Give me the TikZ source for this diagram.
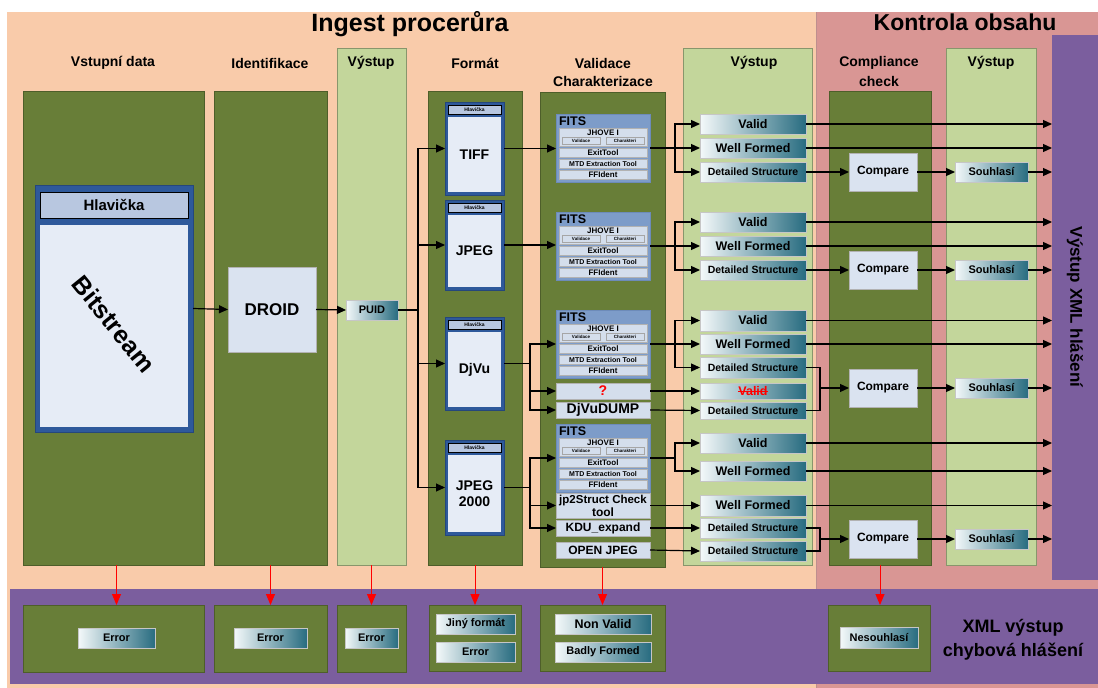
\documentclass[tikz,border=0pt]{standalone}
\usepackage{fontspec}
\setmainfont{Liberation Sans}
\usetikzlibrary{arrows.meta}
\definecolor{peach}{RGB}{249,203,170}
\definecolor{pinkr}{RGB}{217,150,148}
\definecolor{purp}{RGB}{123,94,158}
\definecolor{dkg}{RGB}{104,126,56}
\definecolor{ltg}{RGB}{195,214,155}
\definecolor{btnl}{RGB}{244,249,250}
\definecolor{btnm}{RGB}{172,206,215}
\definecolor{btnr}{RGB}{40,108,128}
\definecolor{frb}{RGB}{46,89,155}
\definecolor{hdb}{RGB}{184,199,224}
\definecolor{bdb}{RGB}{230,236,246}
\definecolor{fib}{RGB}{125,156,201}
\definecolor{fii}{RGB}{212,222,236}
\definecolor{cmpf}{RGB}{218,227,240}
\newcommand\bx[7]{\node[#1,minimum width={(#5)-(#3)},minimum height={(#6)-(#4)}] (#2) at ({((#3)+(#5))/2},{((#4)+(#6))/2}) {#7};}
\newcommand\fsz[1]{\fontsize{#1}{#1}\selectfont}
\newcommand\fmtbox[4]{%
 \bx{frm}{#1}{445}{#2}{504}{#3}{}
 \bx{hdr}{#1h}{448}{(#2)+3}{501}{(#2)+12}{\fsz{5}Hlavička}
 \bx{bdy}{#1b}{448}{(#2)+15}{501}{(#3)-3}{#4}}
\newcommand\fits[2]{%
 \bx{fitsbox}{#1}{556}{#2}{650}{(#2)+68}{}
 \node[base,anchor=west,font=\bfseries\fsz{12.5}] (#1t) at (559,{(#2)+7}) {FITS};
 \bx{inbox}{#1j}{559}{(#2)+14}{647}{(#2)+32}{}
 \node[base,font=\bfseries\fsz{8}] (#1jt) at (603,{(#2)+19}) {JHOVE I};
 \bx{subbox}{#1va}{562}{(#2)+23}{600}{(#2)+30}{\fsz{4.5}Validace}
 \bx{subbox}{#1ch}{606}{(#2)+23}{644}{(#2)+30}{\fsz{4.5}Charakteri}
 \bx{inbox}{#1e}{559}{(#2)+34}{647}{(#2)+43}{\fsz{8}ExitTool}
 \bx{inbox}{#1m}{559}{(#2)+45}{647}{(#2)+54}{\fsz{7}MTD Extraction Tool}
 \bx{inbox}{#1f}{559}{(#2)+56}{647}{(#2)+65}{\fsz{8}FFIdent}}
\tikzset{
 base/.style={inner sep=0pt, outer sep=0pt, font=\bfseries, align=center},
 pband/.style={base, fill=purp},
 dcol/.style={base, fill=dkg, draw=dkg!75!black, line width=0.7pt},
 lcol/.style={base, fill=ltg, draw=ltg!70!black, line width=0.7pt},
 btn/.style={base, draw=gray!45, line width=0.6pt, left color=btnl, middle color=btnm, right color=btnr},
 frm/.style={base, fill=frb, draw=frb!80!black, line width=0.6pt},
 hdr/.style={base, fill=hdb, draw=black, line width=0.8pt},
 bdy/.style={base, fill=bdb, font=\bfseries\fsz{14}},
 fitsbox/.style={base, fill=fib, draw=frb!70, line width=0.8pt},
 inbox/.style={base, fill=fii, draw=gray!60, line width=0.5pt},
 subbox/.style={base, fill=fii, draw=gray!70, line width=0.4pt},
 tool/.style={inbox, font=\bfseries\fsz{12}},
 cmp/.style={base, fill=cmpf, draw=gray!60, line width=0.6pt, font=\bfseries\fsz{12}},
 hd/.style={base, font=\bfseries\fsz{14}, align=center},
 ln/.style={draw=black, line width=1.2pt},
 arr/.style={ln, -{Triangle[length=9pt,width=8pt]}},
 redarr/.style={draw=red, line width=1pt, -{Triangle[length=11pt,width=9pt]}},
 b12/.style={btn, font=\bfseries\fsz{12.5}},
 b11/.style={btn, font=\bfseries\fsz{11}},
 b10/.style={btn, font=\bfseries\fsz{10.5}},
}
\begin{document}
\begin{tikzpicture}[x=1pt,y=-1pt]
\useasboundingbox (0,0) rectangle (1098,688);
\fill[white] (0,0) rectangle (1098,688);
\fill[peach] (7,12) rectangle (817,688);
\fill[pinkr] (817,12) rectangle (1098,688);
\draw[pinkr!70!gray, line width=1pt] (816.5,12) -- (816.5,688);
\bx{pband}{band}{10}{589}{1098}{684}{}
\bx{pband}{bar}{1052}{35}{1098}{580}{}
% titles
\node[base,font=\bfseries\fsz{25}] (t1) at (410,24) {Ingest procerůra};
\node[base,font=\bfseries\fsz{23}] (t2) at (965,22) {Kontrola obsahu};
% columns
\bx{dcol}{col1}{23}{91}{204}{565}{}
\bx{dcol}{col2}{214}{91}{327}{565}{}
\bx{lcol}{col3}{337}{48}{406}{565}{}
\bx{dcol}{col4}{428}{91}{522}{565}{}
\bx{dcol}{col5}{540}{92}{665}{567}{}
\bx{lcol}{col6}{683}{48}{812}{565}{}
\bx{dcol}{col7}{829}{91}{931}{565}{}
\bx{lcol}{col8}{946}{48}{1036}{565}{}
% headers
\node[hd] (h1) at (113,63) {Vstupní data};
\node[hd] (h2) at (270,63) {Identifikace};
\node[hd] (h3) at (371,63) {Výstup};
\node[hd] (h4) at (475,63) {Formát};
\node[hd] (h5) at (603,63) {Validace};
\node[hd] (h5b) at (603,81) {Charakterizace};
\node[hd] (h6) at (754,63) {Výstup};
\node[hd] (h7) at (879,63) {Compliance};
\node[hd] (h7b) at (879,81) {check};
\node[hd] (h8) at (991,63) {Výstup};
% bitstream
\bx{frm}{bs}{35}{185}{193}{432}{}
\bx{hdr}{bsh}{40}{192}{188}{218}{\fsz{15}Hlavička}
\bx{bdy}{bsb}{40}{225}{188}{427}{}
\node[base,font=\bfseries\fsz{25},rotate=-51] (bst) at (114,324) {Bitstream};
% DROID, PUID
\bx{cmp}{droid}{228}{267}{316}{352}{\fsz{17}DROID}
\bx{b11}{puid}{346}{300}{398}{320}{PUID}
% formats
\fmtbox{tiff}{102}{195}{TIFF}
\fmtbox{jpeg}{200}{290}{JPEG}
\fmtbox{djvu}{317}{410}{DjVu}
\fmtbox{jp2}{440}{535}{JPEG\\[2pt]2000}
% FITS + tools
\fits{fa}{114}
\fits{fb}{212}
\fits{fc}{310}
\fits{fd}{424}
\bx{tool}{qm}{556}{383}{650}{399}{\textcolor{red}{\fsz{14}?}}
\bx{tool}{djd}{556}{402}{650}{418}{\fsz{14}DjVuDUMP}
\bx{tool}{jps}{556}{493}{650}{518}{\fsz{11.5}jp2Struct Check\\[1pt]tool}
\bx{tool}{kdu}{556}{520}{650}{536}{KDU\_expand}
\bx{tool}{opj}{556}{542}{650}{558}{OPEN JPEG}
% outputs
\bx{b12}{va}{700}{114}{806}{134}{Valid}
\bx{b12}{wa}{700}{138}{806}{158}{Well Formed}
\bx{b10}{da}{700}{162}{806}{182}{Detailed Structure}
\bx{b12}{vb}{700}{212}{806}{232}{Valid}
\bx{b12}{wb}{700}{236}{806}{256}{Well Formed}
\bx{b10}{db}{700}{260}{806}{280}{Detailed Structure}
\bx{b12}{vc}{700}{310}{806}{331}{Valid}
\bx{b12}{wc}{700}{334}{806}{354}{Well Formed}
\bx{b10}{dc}{700}{357}{806}{378}{Detailed Structure}
\bx{b12}{vr}{700}{383}{806}{399}{}
\node[base,font=\bfseries\fsz{12.5},text=red] (vrt) at (vr.center) {Valid};
\draw[red,line width=1pt] (vrt.west) -- (vrt.east);
\bx{b10}{dd}{700}{402}{806}{419}{Detailed Structure}
\bx{b12}{vd}{700}{433}{806}{453}{Valid}
\bx{b12}{wd}{700}{461}{806}{481}{Well Formed}
\bx{b12}{we}{700}{495}{806}{516}{Well Formed}
\bx{b10}{de}{700}{518}{806}{538}{Detailed Structure}
\bx{b10}{df}{700}{541}{806}{561}{Detailed Structure}
% compare / souhlasi
\bx{cmp}{ca}{849}{153}{917}{191}{Compare}
\bx{cmp}{cb}{849}{251}{917}{289}{Compare}
\bx{cmp}{cc}{849}{369}{917}{407}{Compare}
\bx{cmp}{cd}{849}{520}{917}{558}{Compare}
\bx{b11}{sa}{955}{162}{1028}{182}{Souhlasí}
\bx{b11}{sb}{955}{260}{1028}{280}{Souhlasí}
\bx{b11}{sc}{955}{378}{1028}{398}{Souhlasí}
\bx{b11}{sd}{955}{529}{1028}{549}{Souhlasí}
% bottom error boxes
\bx{dcol}{e1}{23}{605}{204}{672}{}
\bx{dcol}{e2}{214}{605}{327}{672}{}
\bx{dcol}{e3}{337}{605}{406}{672}{}
\bx{dcol}{e4}{429}{605}{521}{671}{}
\bx{dcol}{e5}{540}{605}{665}{671}{}
\bx{dcol}{e7}{828}{605}{930}{671}{}
\bx{b11}{e1b}{78}{628}{155}{648}{Error}
\bx{b11}{e2b}{234}{628}{307}{648}{Error}
\bx{b11}{e3b}{345}{628}{398}{648}{Error}
\bx{b11}{e4a}{436}{614}{515}{634}{Jiný formát}
\bx{b11}{e4b}{436}{642}{515}{662}{Error}
\bx{b12}{e5a}{555}{614}{651}{634}{Non Valid}
\bx{b11}{e5b}{555}{642}{651}{662}{Badly Formed}
\bx{b11}{e7b}{840}{627}{918}{648}{Nesouhlasí}
\node[base,font=\bfseries\fsz{18}] (xm1) at (1013,628) {XML výstup};
\node[base,font=\bfseries\fsz{18}] (xm2) at (1013,652) {chybová hlášení};
\node[base,font=\bfseries\fsz{17},rotate=-90] (vx) at (1075,307) {Výstup XML hlášení};
% connectors: input side
\draw[arr] (bs.east) -- (droid.west);
\draw[arr] (droid.east) -- (puid.west);
\coordinate (px) at (418,0);
\draw[ln] (puid.east) -- (puid.east -| px);
\draw[arr] (puid.east -| px) |- (tiff.west);
\draw[arr] (puid.east -| px) |- (jpeg.west);
\draw[arr] (puid.east -| px) |- (djvu.west);
\draw[arr] (puid.east -| px) |- (jp2.west);
\draw[arr] (tiff.east) -- (tiff.east -| fa.west);
\draw[arr] (jpeg.east) -- (jpeg.east -| fb.west);
\coordinate (qx) at (530,0);
\draw[ln] (djvu.east) -- (djvu.east -| qx);
\draw[arr] (djvu.east -| qx) |- (fc.west);
\draw[arr] (djvu.east -| qx) |- (qm.west);
\draw[arr] (djvu.east -| qx) |- (djd.west);
\draw[ln] (jp2.east) -- (jp2.east -| qx);
\draw[arr] (jp2.east -| qx) |- (fd.west);
\draw[arr] (jp2.east -| qx) |- (jps.west);
\draw[arr] (jp2.east -| qx) |- (kdu.west);
% FITS to outputs
\coordinate (fx) at (675,0);
\foreach \f/\a/\b/\c in {fa/va/wa/da, fb/vb/wb/db, fc/vc/wc/dc}{
 \draw[ln] (\f.east) -- (\f.east -| fx);
 \draw[arr] (\f.east -| fx) |- (\a.west);
 \draw[arr] (\f.east -| fx) |- (\b.west);
 \draw[arr] (\f.east -| fx) |- (\c.west);
}
\draw[ln] (fd.east) -- (fd.east -| fx);
\draw[arr] (fd.east -| fx) |- (vd.west);
\draw[arr] (fd.east -| fx) |- (wd.west);
\draw[arr] (qm.east) -- (vr.west);
\draw[arr] (djd.east) -- (dd.west);
\draw[arr] (jps.east) -- (we.west);
\draw[arr] (kdu.east) -- (de.west);
\draw[arr] (opj.east) -- (df.west);
% outputs to XML bar
\foreach \n in {va,wa,vb,wb,vc,wc,vd,wd,we}{
 \draw[arr] (\n.east) -- (\n.east -| bar.west);
}
% detailed structure to compare
\draw[arr] (da.east) -- (ca.west);
\draw[arr] (db.east) -- (cb.west);
\coordinate (mx) at (820,0);
\draw[ln] (dc.east) -- (dc.east -| mx) -- (dd.east -| mx) -- (dd.east);
\draw[arr] (cc.west -| mx) -- (cc.west);
\draw[ln] (de.east) -- (de.east -| mx) -- (df.east -| mx) -- (df.east);
\draw[arr] (cd.west -| mx) -- (cd.west);
\foreach \c/\s in {ca/sa, cb/sb, cc/sc, cd/sd}{
 \draw[arr] (\c.east) -- (\s.west);
 \draw[arr] (\s.east) -- (\s.east -| bar.west);
}
% red error arrows
\draw[redarr] (e1b.north |- col1.south) -- (e1b.north |- e1.north);
\draw[redarr] (e2b.north |- col2.south) -- (e2b.north |- e2.north);
\draw[redarr] (e3b.north |- col3.south) -- (e3b.north |- e3.north);
\draw[redarr] (col4.south) -- (e4.north);
\draw[redarr] (col5.south) -- (e5.north);
\draw[redarr] (col7.south) -- (col7.south |- e7.north);
\end{tikzpicture}
\end{document}
